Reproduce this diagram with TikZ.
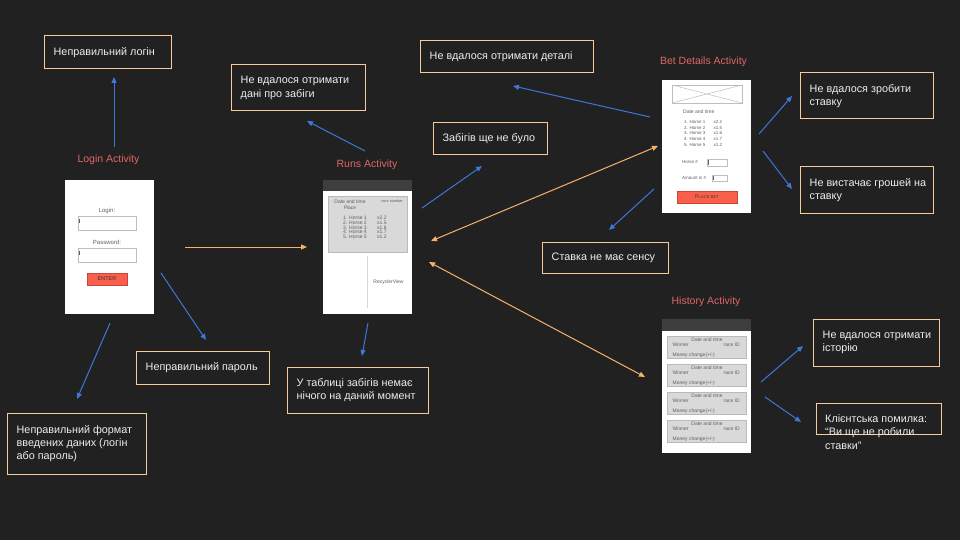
\documentclass[tikz,border=0pt]{standalone}
\usepackage{fontspec}
\setmainfont{Liberation Sans}
\usetikzlibrary{arrows.meta}
\definecolor{bg}{RGB}{33,33,33}
\definecolor{boxc}{RGB}{249,203,156}
\definecolor{txt}{RGB}{238,238,238}
\definecolor{ttl}{RGB}{224,102,102}
\definecolor{barr}{RGB}{60,120,216}
\definecolor{oarr}{RGB}{246,178,107}
\definecolor{scrtxt}{RGB}{95,95,95}
\definecolor{cardf}{RGB}{217,217,217}
\definecolor{cardd}{RGB}{185,185,185}
\definecolor{btn}{RGB}{250,95,75}
\definecolor{btnd}{RGB}{200,70,55}
\definecolor{hdr}{RGB}{62,62,62}
\definecolor{inp}{RGB}{190,190,190}
\definecolor{vline}{RGB}{215,215,215}
\newcommand\rbox[6]{\node[#2, minimum width={#5-#3}, minimum height={#6-#4}, inner sep=0, outer sep=0] (#1) at ({(#3+#5)/2},{(#4+#6)/2}) {};}
\newcommand\msg[6]{\rbox{#1}{mbox}{#2}{#3}{#4}{#5}\node[mtext, anchor=west] (#1-t) at ({#2+9.5},{(#3+#5)/2}) {#6};}
\begin{document}
\begin{tikzpicture}[x=1pt,y=-1pt,
  mbox/.style={draw=boxc, line width=1pt},
  mtext/.style={text=txt, font=\fontsize{10.8}{13.3}\selectfont, align=left, inner sep=0},
  ttlst/.style={text=ttl, font=\fontsize{10.5}{12}\selectfont, inner sep=0},
  scr/.style={fill=white, draw=none},
  hdrst/.style={fill=hdr, draw=none},
  card/.style={fill=cardf, draw=cardd, line width=0.6pt},
  inbox/.style={fill=white, draw=inp, line width=0.7pt},
  btnst/.style={fill=btn, draw=btnd, line width=0.4pt},
  stxt/.style={text=scrtxt, inner sep=0, font=\fontsize{5}{5.8}\selectfont},
  sstxt/.style={text=scrtxt, inner sep=0, font=\fontsize{4.5}{5.3}\selectfont},
  ltxt/.style={text=scrtxt, inner sep=0, font=\fontsize{6}{7}\selectfont},
  tip/.tip={Triangle[length=6pt,width=5pt]},
  barrow/.style={draw=barr, line width=1pt, -tip},
  oarrow/.style={draw=oarr, line width=1pt, -tip},
  oarrowb/.style={draw=oarr, line width=1pt, tip-tip}]
\fill[bg] (0,0) rectangle (960,540);
\useasboundingbox (0,0) rectangle (960,540);

% ---------- message boxes ----------
\msg{b1}{44}{36}{171}{69}{Неправильний логін}
\msg{b2}{231}{65}{365}{111}{Не вдалося отримати\\дані про забіги}
\msg{b3}{420}{41}{593}{73}{Не вдалося отримати деталі}
\msg{b4}{433}{123}{547}{155}{Забігів ще не було}
\msg{b5}{542}{242}{668}{273}{Ставка не має сенсу}
\msg{b6}{800}{73}{933}{119}{Не вдалося зробити\\ставку}
\msg{b7}{800}{167}{933}{213}{Не вистачає грошей на\\ставку}
\msg{b8}{813}{319}{939}{366}{Не вдалося отримати\\історію}
\rbox{b9}{mbox}{816}{403}{941}{434}
\node[mtext, anchor=north west] (b9-t) at (825,414.5) {Клієнтська помилка:\\“Ви ще не робили\\ставки”};
\msg{b10}{136}{351}{269}{384}{Неправильний пароль}
\msg{b11}{287}{367}{428}{413}{У таблиці забігів немає\\нічого на даний момент}
\msg{b12}{7}{413}{146}{474}{Неправильний формат\\введених даних (логін\\або пароль)}

% ---------- titles ----------
\node[ttlst] (tlogin) at (108.5,160) {Login Activity};
\node[ttlst] (truns) at (367,165) {Runs Activity};
\node[ttlst] (tbet) at (703.5,62) {Bet Details Activity};
\node[ttlst] (thist) at (706,302) {History Activity};

% ---------- Login screen ----------
\rbox{login}{scr}{65}{180}{154}{314}
\node[ltxt] (llog) at (107,211) {Login:};
\rbox{lin1}{inbox}{78}{216}{136}{230}
\draw[scrtxt, line width=0.5pt] (79.5,218.5) -- (79.5,223) coordinate (lc1);
\node[ltxt] (lpas) at (107,242) {Password:};
\rbox{lin2}{inbox}{78}{248}{136}{262}
\draw[scrtxt, line width=0.5pt] (79.5,250.5) -- (79.5,255) coordinate (lc2);
\rbox{lbtn}{btnst}{87}{273}{127}{285}
\node[inner sep=0, text=black!80, font=\fontsize{5.5}{6}\selectfont] (lent) at (107,279) {ENTER};

% ---------- Runs screen ----------
\rbox{rhdr}{hdrst}{323}{180}{412}{191}
\rbox{runs}{scr}{323}{191}{412}{314}
\rbox{rcard}{card}{328}{196}{407}{252}
\node[stxt, align=center] (rdate) at (350,205) {Date and time\\Place};
\node[inner sep=0, text=scrtxt, font=\fontsize{3.8}{4.5}\selectfont] (rrace) at (392,201.5) {race number};
\foreach \i/\m in {1/2.2,2/1.5,3/1.6,4/1.7,5/1.2}{
  \node[stxt, anchor=west] (rh\i) at (343,{212.8+\i*4.85}) {\i. Horse \i};
  \node[stxt, anchor=west] (rm\i) at (377,{212.8+\i*4.85}) {x\m};
}
\draw[vline, line width=1pt] (367,256) coordinate (rv1) -- (367,308) coordinate (rv2);
\node[stxt] (rrec) at (388.5,282) {RecyclerView};

% ---------- Bet Details screen ----------
\rbox{bet}{scr}{662}{80}{751}{213}
\rbox{bimg}{inbox}{672}{85}{742}{103}
\draw[inp, line width=0.5pt] (bimg.north west) -- (bimg.south east) (bimg.south west) -- (bimg.north east);
\node[stxt, anchor=west] (bdate) at (683,112) {Date and time};
\foreach \i/\m in {1/2.2,2/1.5,3/1.6,4/1.7,5/1.2}{
  \node[sstxt, anchor=west] (bh\i) at (684,{116+\i*5.8}) {\i. Horse \i};
  \node[sstxt, anchor=west] (bm\i) at (713.5,{116+\i*5.8}) {x\m};
}
\node[sstxt, anchor=west] (bhor) at (682,162) {Horse \#};
\rbox{bin1}{inbox}{707}{159}{727}{166}
\draw[scrtxt, line width=0.4pt] (708.5,160.2) -- (708.5,164.8) coordinate (bc1);
\node[sstxt, anchor=west] (bamt) at (682,178) {Amount in \#};
\rbox{bin2}{inbox}{712}{175}{727}{181}
\draw[scrtxt, line width=0.4pt] (713.5,176.2) -- (713.5,179.8) coordinate (bc2);
\rbox{bbtn}{btnst}{677}{191}{737}{203}
\node[inner sep=0, text=black!75, font=\fontsize{5.5}{6}\selectfont] (bplace) at (707,197) {P{\fontsize{4.2}{5}\selectfont LACE BET}};

% ---------- History screen ----------
\rbox{hhdr}{hdrst}{662}{319}{751}{331}
\rbox{hist}{scr}{662}{331}{751}{453}
\foreach \i/\t in {1/336,2/364,3/392,4/420}{
  \rbox{hc\i}{card}{667}{\t}{746}{\t+22}
  \node[stxt] (hd\i) at (707,{\t+3.5}) {Date and time};
  \node[stxt, anchor=west] (hw\i) at (672.5,{\t+9}) {Winner};
  \node[stxt, anchor=east] (hr\i) at (740,{\t+9}) {race ID};
  \node[stxt, anchor=west] (hm\i) at (672.5,{\t+19.5}) {Money change(+/-)};
}

% ---------- connectors ----------
\coordinate (a1s) at (114,147); \coordinate (a1e) at (114,77);
\draw[barrow] (a1s) -- (a1e);
\coordinate (a2s) at (365,151); \coordinate (a2e) at (307,121);
\draw[barrow] (a2s) -- (a2e);
\coordinate (a3s) at (185,247); \coordinate (a3e) at (307,247);
\draw[oarrow] (a3s) -- (a3e);
\coordinate (a4s) at (161,273); \coordinate (a4e) at (206,340);
\draw[barrow] (a4s) -- (a4e);
\coordinate (a5s) at (110,323); \coordinate (a5e) at (77,399);
\draw[barrow] (a5s) -- (a5e);
\coordinate (a6s) at (368,323); \coordinate (a6e) at (362,356);
\draw[barrow] (a6s) -- (a6e);
\coordinate (a7s) at (422,208); \coordinate (a7e) at (482,166);
\draw[barrow] (a7s) -- (a7e);
\coordinate (a8s) at (431,241); \coordinate (a8e) at (658,146);
\draw[oarrowb] (a8s) -- (a8e);
\coordinate (a9s) at (654,189); \coordinate (a9e) at (609,230);
\draw[barrow] (a9s) -- (a9e);
\coordinate (a10s) at (429,262); \coordinate (a10e) at (645,377);
\draw[oarrowb] (a10s) -- (a10e);
\coordinate (a11s) at (650,117); \coordinate (a11e) at (513,86);
\draw[barrow] (a11s) -- (a11e);
\coordinate (a12s) at (759,134); \coordinate (a12e) at (792,96);
\draw[barrow] (a12s) -- (a12e);
\coordinate (a13s) at (763,151); \coordinate (a13e) at (792,189);
\draw[barrow] (a13s) -- (a13e);
\coordinate (a14s) at (761,382); \coordinate (a14e) at (803,346);
\draw[barrow] (a14s) -- (a14e);
\coordinate (a15s) at (765,397); \coordinate (a15e) at (801,422);
\draw[barrow] (a15s) -- (a15e);
\end{tikzpicture}
\end{document}
